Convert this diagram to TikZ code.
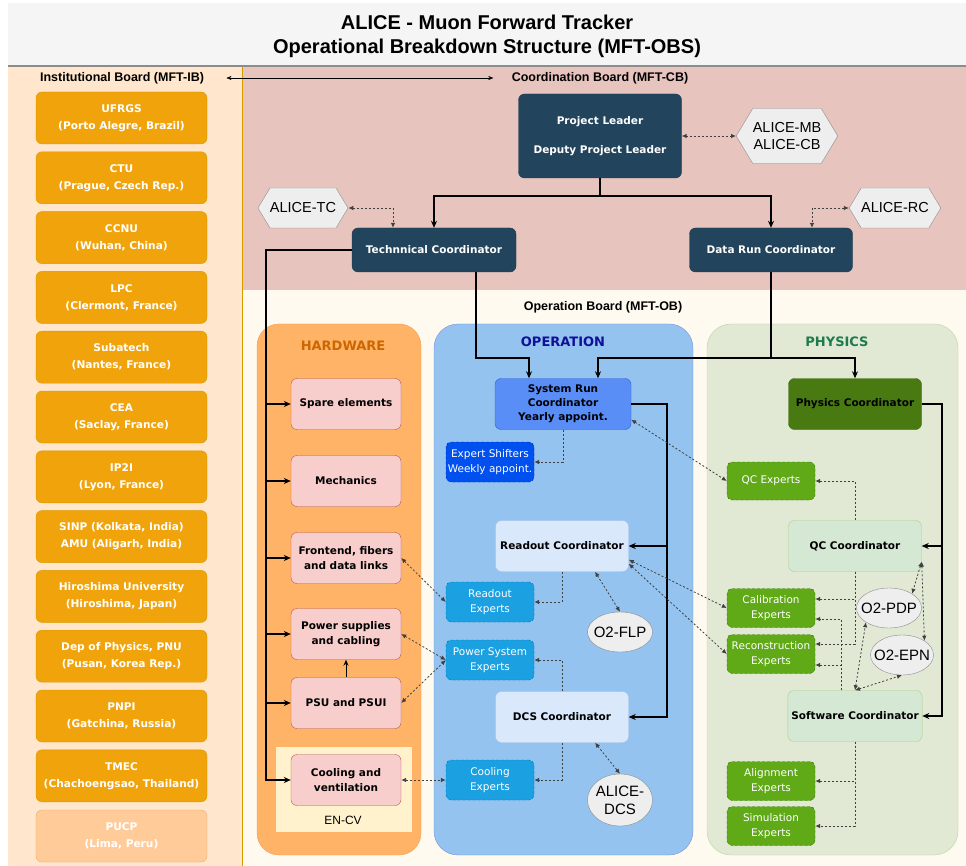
\documentclass[tikz,border=0pt]{standalone}
\usepackage{fontspec}
\setmainfont{DejaVu Sans}
\newfontfamily\arialf{Liberation Sans}
\usetikzlibrary{arrows.meta, shapes.geometric, shapes.symbols}

\definecolor{titlebg}{HTML}{F5F5F5}
\definecolor{ibbg}{HTML}{FFE6CC}
\definecolor{ibline}{HTML}{D79B00}
\definecolor{cbbg}{HTML}{E7C4BE}
\definecolor{obbg}{HTML}{FFFAF0}
\definecolor{instfill}{HTML}{F0A30A}
\definecolor{instline}{HTML}{D79B00}
\definecolor{pucpfill}{HTML}{FFCC99}
\definecolor{pucpline}{HTML}{E6AE6E}
\definecolor{navyfill}{HTML}{23445D}
\definecolor{navyline}{HTML}{1B3A50}
\definecolor{hexfill}{HTML}{EEEEEE}
\definecolor{hexline}{HTML}{8C8C8C}
\definecolor{hwpanel}{HTML}{FFB366}
\definecolor{hwpanelline}{HTML}{F0A050}
\definecolor{hwtitle}{HTML}{CC6600}
\definecolor{hwfill}{HTML}{F8CECC}
\definecolor{hwline}{HTML}{B85450}
\definecolor{enfill}{HTML}{FFF2CC}
\definecolor{oppanel}{HTML}{93C3EE}
\definecolor{oppanelline}{HTML}{7E8CE0}
\definecolor{optitle}{HTML}{101099}
\definecolor{srcfill}{HTML}{5A8EF7}
\definecolor{srcline}{HTML}{2F5FD0}
\definecolor{shiftfill}{HTML}{0050EF}
\definecolor{shiftline}{HTML}{001DBC}
\definecolor{expfill}{HTML}{1BA1E2}
\definecolor{expline}{HTML}{006EAF}
\definecolor{lightfill}{HTML}{DAE8FC}
\definecolor{lightline}{HTML}{A9C4EB}
\definecolor{phpanel}{HTML}{E1E9D4}
\definecolor{phpanelline}{HTML}{B8D6A0}
\definecolor{phtitle}{HTML}{1E7B4E}
\definecolor{phcfill}{HTML}{497A12}
\definecolor{phcline}{HTML}{3D6A0E}
\definecolor{greenfill}{HTML}{60A917}
\definecolor{greenline}{HTML}{2D7600}
\definecolor{lgfill}{HTML}{D5E8D4}
\definecolor{lgline}{HTML}{A9D18E}
\definecolor{lnkcol}{HTML}{404040}

\begin{document}
\begin{tikzpicture}[x=1pt, y=-1pt, >={Stealth[length=7pt,width=6pt]},
    instbox/.style={rounded corners=6pt, draw=instline, fill=instfill, text=white,
        minimum width=171pt, minimum height=52pt, align=center,
        font=\bfseries\fontsize{10.6}{17}\selectfont},
    navybox/.style={rounded corners=6pt, draw=navyline, fill=navyfill, text=white,
        align=center, font=\bfseries\fontsize{10.5}{14}\selectfont},
    hexbox/.style={signal, signal to=west and east, signal pointer angle=118,
        draw=hexline, fill=hexfill, align=center, inner sep=0pt,
        font=\arialf\fontsize{14.5}{17}\selectfont},
    ellbox/.style={ellipse, draw=hexline, fill=hexfill, inner sep=-6pt, align=center,
        minimum width=65pt, font=\arialf\fontsize{15}{18}\selectfont},
    hwbox/.style={rounded corners=6pt, draw=hwline, fill=hwfill, minimum width=110pt,
        minimum height=51pt, align=center, font=\bfseries\fontsize{10.5}{15}\selectfont},
    coordbox/.style={rounded corners=6pt, minimum width=133pt, minimum height=51pt,
        align=center, font=\bfseries\fontsize{10.5}{14}\selectfont},
    expbox/.style={rounded corners=5pt, densely dashed, minimum width=88pt,
        minimum height=40pt, align=center, text=white, inner sep=0pt,
        font=\fontsize{10.5}{15}\selectfont},
    boardlab/.style={font=\arialf\bfseries\fontsize{12.5}{14}\selectfont},
    paneltitle/.style={font=\bfseries\fontsize{13}{15}\selectfont},
    bus/.style={line width=1.6pt, ->},
    lnk/.style={draw=lnkcol, line width=0.8pt, dash pattern=on 2pt off 2pt,
        >={Latex[length=5pt,width=4.5pt]}}]
    \useasboundingbox (0,0) rectangle (966,866);

    % Nền
    \fill[white] (0,0) rectangle (966,866);
    \fill[titlebg] (8,3) rectangle (966,66);
    \fill[ibbg] (8,66) rectangle (242,866);
    \fill[cbbg] (242,66) rectangle (966,290);
    \fill[obbg] (242,290) rectangle (966,866);
    \draw[ibline] (242,66) -- (242,866);
    \draw[black!45, line width=1.5pt] (8,66) -- (966,66);

    % Tiêu đề
    \node[align=center, font=\arialf\bfseries\fontsize{20}{24}\selectfont] (title) at (487,36)
        {ALICE - Muon Forward Tracker\\Operational Breakdown Structure (MFT-OBS)};
    \node[boardlab] (iblab) at (122,78) {Institutional Board (MFT-IB)};
    \node[boardlab] (cblab) at (600,78) {Coordination Board (MFT-CB)};
    \node[boardlab] (oblab) at (603,307) {Operation Board (MFT-OB)};
    \draw[<->, >={Stealth[length=5pt,width=4pt]}] ([xshift=19pt]iblab.east) -- ([xshift=-15pt]cblab.west);

    % Các viện
    \foreach \nm/\txt [count=\i from 0] in {
        ufrgs/{UFRGS\\(Porto Alegre, Brazil)},
        ctu/{CTU\\(Prague, Czech Rep.)},
        ccnu/{CCNU\\(Wuhan, China)},
        lpc/{LPC\\(Clermont, France)},
        subatech/{Subatech\\(Nantes, France)},
        cea/{CEA\\(Saclay, France)},
        iptwoi/{IP2I\\(Lyon, France)},
        sinp/{SINP (Kolkata, India)\\AMU (Aligarh, India)},
        hiro/{Hiroshima University\\(Hiroshima, Japan)},
        pnu/{Dep of Physics, PNU\\(Pusan, Korea Rep.)},
        pnpi/{PNPI\\(Gatchina, Russia)},
        tmec/{TMEC\\(Chachoengsao, Thailand)}} {
        \node[instbox] (\nm) at (121.5,{118+59.8*\i}) {\txt};
    }
    \node[instbox, fill=pucpfill, draw=pucpline] (pucp) at (121.5,836) {PUCP\\(Lima, Peru)};

    % Ban điều phối
    \node[navybox, minimum width=163pt, minimum height=84pt] (pl) at (600,136)
        {Project Leader\\[15pt]Deputy Project Leader};
    \node[hexbox, minimum width=101pt, minimum height=55pt] (amb) at (787,136) {ALICE-MB\\ALICE-CB};
    \node[hexbox, minimum width=80pt, minimum height=40pt] (atc) at (303,208) {ALICE-TC};
    \node[hexbox, minimum width=84pt, minimum height=40pt] (arc) at (895,208) {ALICE-RC};
    \node[navybox, minimum width=164pt, minimum height=44pt] (tc) at (434,250) {Technnical Coordinator};
    \node[navybox, minimum width=163pt, minimum height=44pt] (drc) at (771,250) {Data Run Coordinator};

    % Các khối
    \draw[rounded corners=22pt, fill=hwpanel, draw=hwpanelline] (257,324) rectangle (421,855);
    \draw[rounded corners=24pt, fill=oppanel, draw=oppanelline] (434,324) rectangle (693,855);
    \draw[rounded corners=24pt, fill=phpanel, draw=phpanelline] (707,324) rectangle (958,855);
    \node[paneltitle, text=hwtitle] (hwtit) at (343,346) {HARDWARE};
    \node[paneltitle, text=optitle] (optit) at (563,342) {OPERATION};
    \node[paneltitle, text=phtitle] (phtit) at (837,342) {PHYSICS};
    \fill[enfill] (276,747) rectangle (412,832);
    \node[font=\arialf\fontsize{12}{14}\selectfont] (encv) at (343,820) {EN-CV};

    % Phần cứng
    \node[hwbox] (spare) at (346,404) {Spare elements};
    \node[hwbox] (mech) at (346,481) {Mechanics};
    \node[hwbox] (front) at (346,558) {Frontend, fibers\\and data links};
    \node[hwbox] (power) at (346,634) {Power supplies\\and cabling};
    \node[hwbox] (psu) at (346,703) {PSU and PSUI};
    \node[hwbox] (cool) at (346,780) {Cooling and\\ventilation};

    % Vận hành
    \node[coordbox, minimum width=136pt, fill=srcfill, draw=srcline] (src) at (563,404)
        {System Run\\Coordinator\\Yearly appoint.};
    \node[expbox, fill=shiftfill, draw=shiftline] (shift) at (490,462) {Expert Shifters\\Weekly appoint.};
    \node[coordbox, fill=lightfill, draw=lightline] (roc) at (562,546) {Readout Coordinator};
    \node[expbox, fill=expfill, draw=expline] (rdx) at (490,602) {Readout\\Experts};
    \node[ellbox, minimum height=40pt] (flp) at (620,632) {O2-FLP};
    \node[expbox, fill=expfill, draw=expline] (psx) at (490,660) {Power System\\Experts};
    \node[coordbox, fill=lightfill, draw=lightline] (dcs) at (562,717) {DCS Coordinator};
    \node[expbox, fill=expfill, draw=expline] (cox) at (490,780) {Cooling\\Experts};
    \node[ellbox, minimum height=52pt] (adcs) at (620,800) {ALICE-\\DCS};

    % Vật lý
    \node[coordbox, fill=phcfill, draw=phcline] (phc) at (855,404) {Physics Coordinator};
    \node[expbox, minimum height=38pt, fill=greenfill, draw=greenline] (qcx) at (771,481) {QC Experts};
    \node[coordbox, fill=lgfill, draw=lgline] (qcc) at (855,546) {QC Coordinator};
    \node[expbox, minimum height=39pt, fill=greenfill, draw=greenline] (calx) at (771,608) {Calibration\\Experts};
    \node[expbox, minimum height=39pt, fill=greenfill, draw=greenline] (recx) at (771,654) {Reconstruction\\Experts};
    \node[ellbox, minimum height=40pt] (pdp) at (889,608) {O2-PDP};
    \node[ellbox, minimum height=40pt, minimum width=63pt] (epn) at (902,655) {O2-EPN};
    \node[coordbox, fill=lgfill, draw=lgline] (swc) at (855,716) {Software Coordinator};
    \node[expbox, minimum height=39pt, fill=greenfill, draw=greenline] (alx) at (771,781) {Alignment\\Experts};
    \node[expbox, minimum height=39pt, fill=greenfill, draw=greenline] (simx) at (771,826) {Simulation\\Experts};

    % Đường nối chính
    \draw[bus] (pl.south) -- ++(0,18) -| (tc.north);
    \draw[bus] (pl.south) -- ++(0,18) -| (drc.north);
    \coordinate (hwbus) at (266,250);
    \draw[bus] (tc.west) -- (hwbus) |- (cool.west);
    \foreach \n in {spare,mech,front,power,psu} {
        \draw[bus] (hwbus |- \n.west) -- (\n.west);
    }
    \draw[line width=1pt, -{Stealth[length=6pt,width=5pt]}] (psu.north) -- (power.south);
    \draw[bus] ([xshift=-40pt]tc.south east) -- ++(0,86) -| ([xshift=-34pt]src.north);
    \draw[bus] (drc.south) -- ++(0,86) -| ([xshift=35pt]src.north);
    \draw[bus] (drc.south) -- ++(0,86) -| (phc.north);
    \draw[bus] (src.east) -- ++(36,0) |- (roc.east);
    \draw[bus] (src.east) -- ++(36,0) |- (dcs.east);
    \draw[bus] (phc.east) -- ++(20,0) |- (qcc.east);
    \draw[bus] (phc.east) -- ++(20,0) |- (swc.east);

    % Đường nét đứt
    \draw[lnk,<->] (pl.east) -- (amb.west);
    \draw[lnk,<->] (atc.east) -| ([xshift=-41pt]tc.north);
    \draw[lnk,<->] (arc.west) -| ([xshift=41pt]drc.north);
    \draw[lnk,->] (src.south) |- (shift.east);
    \draw[lnk,->] (roc.south) |- (rdx.east);
    \draw[lnk,<->] ([xshift=33pt]roc.south) -- (flp.north);
    \draw[lnk,->] (dcs.north) |- (psx.east);
    \draw[lnk,->] (dcs.south) |- (cox.east);
    \draw[lnk,<->] ([xshift=33pt]dcs.south) -- (adcs.north);
    \draw[lnk,<->] (front.east) -- (rdx.west);
    \draw[lnk,<->] (power.east) -- (psx.west);
    \draw[lnk,<->] (psu.east) -- (psx.west);
    \draw[lnk,<->] (cool.east) -- (cox.west);
    \draw[lnk,<->] ([yshift=10pt]src.south east) -- (qcx.west);
    \draw[lnk,<->] ([yshift=12pt]roc.south east) -- (calx.west);
    \draw[lnk,<->] ([yshift=8pt]roc.south east) -- (recx.west);
    \draw[lnk,->] (qcc.north) |- (qcx.east);
    \draw[lnk,->] (qcc.south) |- ([yshift=9pt]calx.east);
    \draw[lnk,->] (qcc.south) |- ([yshift=10pt]recx.east);
    \draw[lnk,->] ([xshift=-14pt]swc.north) |- ([yshift=-11pt]calx.east);
    \draw[lnk,->] ([xshift=-14pt]swc.north) |- ([yshift=-11pt]recx.east);
    \draw[lnk,<->] ([yshift=10pt]qcc.south east) -- (pdp.north east);
    \draw[lnk,<->] ([yshift=10pt]qcc.south east) -- (epn.north east);
    \draw[lnk,<->] (swc.north) -- (pdp.south west);
    \draw[lnk,<->] (swc.north) -- (epn.south);
    \draw[lnk,->] (swc.south) |- (alx.east);
    \draw[lnk,->] (swc.south) |- (simx.east);
\end{tikzpicture}
\end{document}
